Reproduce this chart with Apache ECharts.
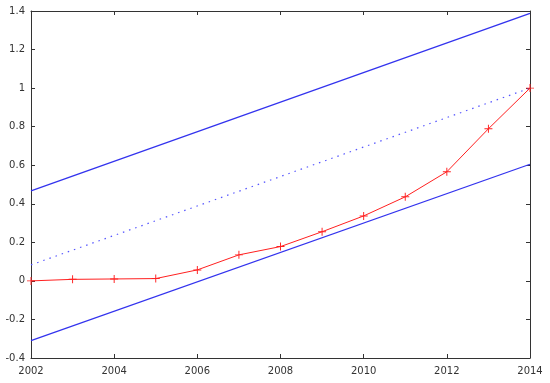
<!DOCTYPE html>
<html>
<head>
<meta charset="utf-8">
<script src="https://cdn.jsdelivr.net/npm/echarts@6/dist/echarts.min.js"></script>
<style>
  html, body { margin: 0; padding: 0; background: #fff; }
  #container { width: 550px; height: 383px; }
</style>
</head>
<body>
<div id="container"></div>
<script>
var dom = document.getElementById("container");
var myChart = echarts.init(dom);

// yearly values (red curve)
var years = [2002, 2003, 2004, 2005, 2006, 2007, 2008, 2009, 2010, 2011, 2012, 2013, 2014];
var values = [0, 0.008, 0.01, 0.012, 0.057, 0.135, 0.178, 0.255, 0.337, 0.436, 0.566, 0.789, 1.0];

// fitted line and band, end points only
var fitX = [2002, 2014];
var fitMid = [0.083, 1.0];
var fitUpper = [0.467, 1.388];
var fitLower = [-0.31, 0.605];

function pairs(xs, ys) {
  return xs.map(function (x, i) { return [x, ys[i]]; });
}

var labelStyle = { color: "#333", fontSize: 10, fontFamily: "DejaVu Sans" };
var axisLine = { show: true, onZero: false, lineStyle: { color: "#333", width: 1 } };
var tick = { show: true, inside: true, length: 4, lineStyle: { color: "#333" } };

var plus = "path://M-1,-0.12H1V0.12H-1Z M-0.12,-1H0.12V1H-0.12Z";

var option = {
  animation: false,
  backgroundColor: "#fff",
  grid: { left: 31, right: 20, top: 11, bottom: 25, containLabel: false },
  xAxis: [
    {
      type: "value", min: 2002, max: 2014, interval: 2, position: "bottom",
      axisLine: axisLine, axisTick: tick, splitLine: { show: false },
      axisLabel: Object.assign({ margin: 8, formatter: function (v) { return String(v); } }, labelStyle)
    },
    {
      type: "value", min: 2002, max: 2014, interval: 2, position: "top",
      axisLine: axisLine, axisTick: tick, splitLine: { show: false },
      axisLabel: { show: false }
    }
  ],
  yAxis: [
    {
      type: "value", min: -0.4, max: 1.4, interval: 0.2, position: "left",
      axisLine: axisLine, axisTick: tick, splitLine: { show: false },
      axisLabel: Object.assign({ margin: 6, formatter: function (v) { return String(Math.round(v * 10) / 10); } }, labelStyle)
    },
    {
      type: "value", min: -0.4, max: 1.4, interval: 0.2, position: "right",
      axisLine: axisLine, axisTick: tick, splitLine: { show: false },
      axisLabel: { show: false }
    }
  ],
  series: [
    {
      type: "line", data: pairs(fitX, fitUpper), showSymbol: false,
      lineStyle: { color: "#3333ee", width: 1.3 }, z: 2
    },
    {
      type: "line", data: pairs(fitX, fitLower), showSymbol: false,
      lineStyle: { color: "#3333ee", width: 1.3 }, z: 2
    },
    {
      type: "line", data: pairs(fitX, fitMid), showSymbol: false,
      lineStyle: { color: "#5555ff", width: 1.2, type: [1.5, 5] }, z: 2
    },
    {
      type: "line", data: pairs(years, values),
      symbol: plus, symbolSize: 8,
      itemStyle: { color: "#ff2020" },
      lineStyle: { color: "#ff2020", width: 1 }, z: 3
    }
  ]
};

myChart.setOption(option);
</script>
</body>
</html>
